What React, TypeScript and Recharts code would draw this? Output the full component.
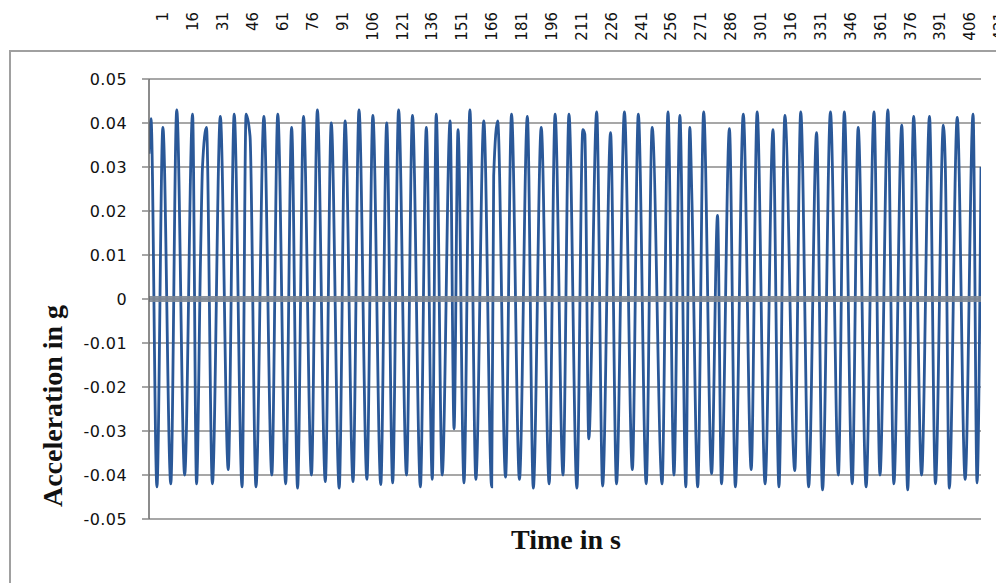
import React from 'react';
import { LineChart, Line, XAxis, YAxis, CartesianGrid, ReferenceLine } from 'recharts';

// Sample number (time) of each turning point
const sampleIndex = [
  1, 2, 5, 8, 12, 15, 19, 23, 25, 27, 28, 30, 33, 37, 41, 44, 48, 50, 52, 55, 59, 63, 66, 70, 73, 76, 79, 83, 86, 90, 93, 97, 100, 104,
  107, 111, 114, 118, 121, 124, 127, 131, 134, 138, 141, 144, 146, 149, 153, 155, 157, 160, 163, 166, 170, 174, 175, 177, 181, 184, 188, 192, 195, 199, 203, 206, 210,
  213, 217, 220, 221, 223, 227, 230, 234, 237, 241, 245, 248, 252, 255, 260, 263, 266, 269, 272, 274, 275, 278, 281, 285, 288, 290, 294, 297, 301, 305, 308, 312, 316, 319,
  322, 327, 330, 334, 338, 341, 345, 349, 352, 356, 359, 363, 367, 370, 374, 377, 381, 384, 387, 391, 395, 398, 402, 403, 405, 409, 413, 417, 419, 421,
];

// Acceleration (g) at those samples
const acceleration = [
  0.033, 0.041, -0.0427, 0.039, -0.042, 0.043, -0.04, 0.042, -0.042, 0.009, 0.03, 0.039, -0.042, 0.0415, -0.0388, 0.042, -0.0427, 0.042, 0.037, -0.0427, 0.0415, -0.04, 0.042, -0.042, 0.039, -0.043, 0.0415, -0.04, 0.043, -0.0415, 0.04, -0.043, 0.0405, -0.0415,
  0.043, -0.041, 0.0417, -0.0422, 0.04, -0.0418, 0.043, -0.04, 0.0417, -0.0427, 0.039, -0.041, 0.042, -0.04, 0.0405, -0.0295, 0.0385, -0.0418, 0.043, -0.041, 0.0405, -0.0427, 0.028, 0.0405, -0.0405, 0.042, -0.041, 0.0415, -0.043, 0.039, -0.042, 0.042, -0.04,
  0.042, -0.043, 0.0385, 0.0375, -0.0318, 0.0425, -0.0425, 0.0378, -0.042, 0.0425, -0.0388, 0.042, -0.042, 0.039, -0.042, 0.0425, -0.04, 0.0417, -0.0427, 0.039, 0.024, -0.0427, 0.0425, -0.0397, 0.019, -0.042, 0.0387, -0.0427, 0.042, -0.0388, 0.0425, -0.042, 0.0385, -0.0427,
  0.0417, -0.039, 0.0425, -0.0427, 0.0378, -0.0434, 0.0425, -0.04, 0.0425, -0.042, 0.039, -0.0427, 0.0425, -0.04, 0.043, -0.042, 0.0395, -0.0434, 0.0415, -0.04, 0.0415, -0.042, 0.0395, 0.03, -0.043, 0.0413, -0.041, 0.042, -0.0418, 0.03,
];

const yTicks = [0.05, 0.04, 0.03, 0.02, 0.01, 0, -0.01, -0.02, -0.03, -0.04, -0.05];
const topTickLabels = [1, 16, 31, 46, 61, 76, 91, 106, 121, 136, 151, 166, 181, 196, 211, 226, 241, 256, 271, 286, 301, 316, 331, 346, 361, 376, 391, 406, 421];
const yTitle = 'Acceleration in g';
const xTitle = 'Time in s';

const data = sampleIndex.map((t, i) => ({ t, a: acceleration[i] }));

const fmtY = (v: number) => {
  const s = Number(v).toFixed(2);
  return s === '0.00' || s === '-0.00' ? '0' : s;
};

const YTick = (props: any) => {
  const { x, y, payload } = props;
  return (
    <text
      x={x}
      y={y}
      dy="0.36em"
      textAnchor="end"
      fill="#111"
      style={{ fontFamily: '"DejaVu Sans", sans-serif', fontSize: 16, letterSpacing: '0.4px' }}
    >
      {fmtY(payload.value)}
    </text>
  );
};

const TopTick = (props: any) => {
  const { x, payload } = props;
  const y = 12;
  return (
    <text
      x={x}
      y={y}
      dy="0.36em"
      textAnchor="end"
      transform={`rotate(-90, ${x}, ${y})`}
      fill="#111"
      style={{ fontFamily: '"DejaVu Sans", sans-serif', fontSize: 15 }}
    >
      {payload.value}
    </text>
  );
};

const YTitle = () => (
  <text
    x={62}
    y={406}
    textAnchor="middle"
    transform="rotate(-90, 62, 406)"
    fill="#111"
    style={{ fontFamily: '"Liberation Serif", "Times New Roman", serif', fontSize: 28, fontWeight: 700 }}
  >
    {yTitle}
  </text>
);

const XTitle = () => (
  <text
    x={566}
    y={549}
    textAnchor="middle"
    fill="#111"
    style={{ fontFamily: '"Liberation Serif", "Times New Roman", serif', fontSize: 28, fontWeight: 700 }}
  >
    {xTitle}
  </text>
);

export default function App() {
  return (
    <div style={{ position: 'absolute', left: 0, top: 0, width: 996, height: 583, overflow: 'hidden', background: '#fff' }}>
      <div
        style={{
          position: 'absolute',
          left: 9,
          top: 50,
          width: 1000,
          height: 600,
          border: '2px solid #a0a0a0',
          boxSizing: 'border-box',
        }}
      />
      <div style={{ position: 'absolute', left: 0, top: 0 }}>
        <LineChart width={996} height={583} data={data} margin={{ top: 0, right: 15, bottom: 0, left: 0 }}>
          <CartesianGrid vertical={false} stroke="#8a8a8a" strokeWidth={1.5} />
          <XAxis
            xAxisId="top"
            orientation="top"
            type="number"
            dataKey="t"
            domain={[-6.04, 411.55]}
            allowDataOverflow
            ticks={topTickLabels}
            interval={0}
            height={79}
            axisLine={false}
            tickLine={false}
            tick={<TopTick />}
          />
          <XAxis
            xAxisId="data"
            type="number"
            dataKey="t"
            domain={[1, 421]}
            allowDataOverflow
            height={64}
            axisLine={false}
            tickLine={false}
            tick={false}
            label={<XTitle />}
          />
          <YAxis
            type="number"
            domain={[-0.05, 0.05]}
            ticks={yTicks}
            interval={0}
            allowDataOverflow
            width={149}
            axisLine={{ stroke: '#666', strokeWidth: 1.5 }}
            tickLine={{ stroke: '#888', strokeWidth: 1.5 }}
            tickSize={7}
            tickMargin={15}
            tick={<YTick />}
            label={<YTitle />}
          />
          <Line
            xAxisId="data"
            type="monotone"
            dataKey="a"
            stroke="#2a5898"
            strokeWidth={2.8}
            dot={false}
            isAnimationActive={false}
          />
          <ReferenceLine xAxisId="data" y={0} stroke="#7f8894" strokeWidth={6} strokeOpacity={0.9} />
        </LineChart>
      </div>
    </div>
  );
}
